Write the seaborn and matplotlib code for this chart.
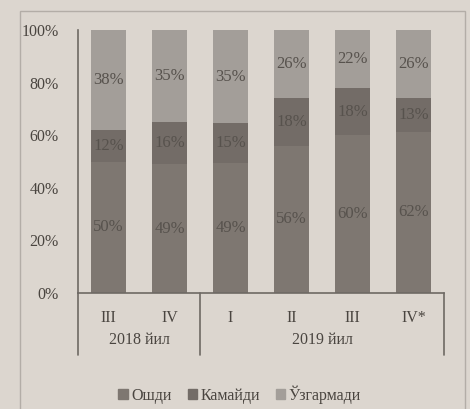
import numpy as np
import pandas as pd
import matplotlib
matplotlib.use("Agg")
import matplotlib.pyplot as plt
import matplotlib.patches as mpatches
import matplotlib.transforms as mtransforms
import seaborn as sns

# quarters and their year groups
quarters = ["III", "IV", "I", "II", "III ", "IV*"]
years = ["2018 йил", "2019 йил"]
year_span = [(0, 1), (2, 5)]

# shares of answers, % (as printed on the bars)
oshdi = [50, 49, 49, 56, 60, 62]
kamaydi = [12, 16, 15, 18, 18, 13]
uzgarmadi = [38, 35, 35, 26, 22, 26]

series_names = ["Ошди", "Камайди", "Ўзгармади"]
colors = ["#7e7771", "#736c67", "#a39e99"]
paper = "#dcd6cf"
ink = "#4a4540"

sns.set_theme(style="white")
plt.rcParams["font.family"] = ["Liberation Serif", "DejaVu Serif"]

df = pd.DataFrame({"q": quarters, "o": oshdi, "k": kamaydi, "u": uzgarmadi})
total = df[["o", "k", "u"]].sum(axis=1)
# 100% stacked: normalise each column
df["o_n"] = df["o"] / total * 100
df["k_n"] = df["k"] / total * 100
df["u_n"] = df["u"] / total * 100
df["c1"] = df["o_n"]
df["c2"] = df["o_n"] + df["k_n"]
df["c3"] = df["c2"] + df["u_n"]

fig = plt.figure(figsize=(4.7, 4.09), dpi=100, facecolor=paper)
ax = fig.add_axes([0.166, 0.2836, 0.779, 0.643])
ax.set_facecolor(paper)

# draw from the tallest cumulative layer down
for col, c in [("c3", colors[2]), ("c2", colors[1]), ("c1", colors[0])]:
    sns.barplot(data=df, x="q", y=col, color=c, width=0.57, ax=ax,
                saturation=1, errorbar=None, order=quarters, linewidth=0)

# segment labels
for i in range(len(quarters)):
    segs = [(0, df["c1"][i], oshdi[i]),
            (df["c1"][i], df["c2"][i], kamaydi[i]),
            (df["c2"][i], df["c3"][i], uzgarmadi[i])]
    for lo, hi, v in segs:
        ax.text(i, (lo + hi) / 2, f"{v}%", ha="center", va="center",
                fontsize=12, color="#57524d")

ax.set_xlim(-0.5, 5.5)
ax.set_ylim(0, 100)
ax.set_yticks([0, 20, 40, 60, 80, 100])
ax.set_yticklabels([f"{t}%" for t in [0, 20, 40, 60, 80, 100]])
ax.tick_params(axis="y", length=0, pad=14, labelsize=11.5, labelcolor=ink)
ax.tick_params(axis="x", length=0, pad=12, labelsize=11.5, labelcolor=ink)
ax.set_xticks(range(len(quarters)))
ax.set_xticklabels([q.strip() for q in quarters])
ax.set_xlabel("")
ax.set_ylabel("")

for s in ["top", "right"]:
    ax.spines[s].set_visible(False)
ax.spines["left"].set_color("#6e6964")
ax.spines["bottom"].set_color("#6e6964")
ax.spines["left"].set_linewidth(1.2)
ax.spines["bottom"].set_linewidth(1.2)

# group separators and year labels below the axis
trans = mtransforms.blended_transform_factory(ax.transData, ax.transAxes)
for xs in [-0.5, 1.5, 5.5]:
    ax.plot([xs, xs], [0, -0.236], transform=trans, color="#6e6964",
            lw=1.2, clip_on=False)
for name, (a, b) in zip(years, year_span):
    ax.text((a + b) / 2, -0.18, name, transform=trans, ha="center",
            va="center", fontsize=11.5, color=ink)

# legend
handles = [mpatches.Patch(color=c, label=n) for c, n in zip(colors, series_names)]
fig.legend(handles=handles, loc="center", bbox_to_anchor=(0.51, 0.035),
           ncol=3, frameon=False, fontsize=11.5, handlelength=0.6,
           handleheight=0.6, handletextpad=0.2, columnspacing=1.0,
           labelcolor=ink)

# thin frame around the chart
fig.patches.append(mpatches.Rectangle((20 / 470, -0.05), 445 / 470, 1 - 11 / 409 + 0.05,
                                      transform=fig.transFigure, fill=False,
                                      edgecolor="#b3ada7", lw=1.0))

fig.savefig("out.png", dpi=100, facecolor=paper)
